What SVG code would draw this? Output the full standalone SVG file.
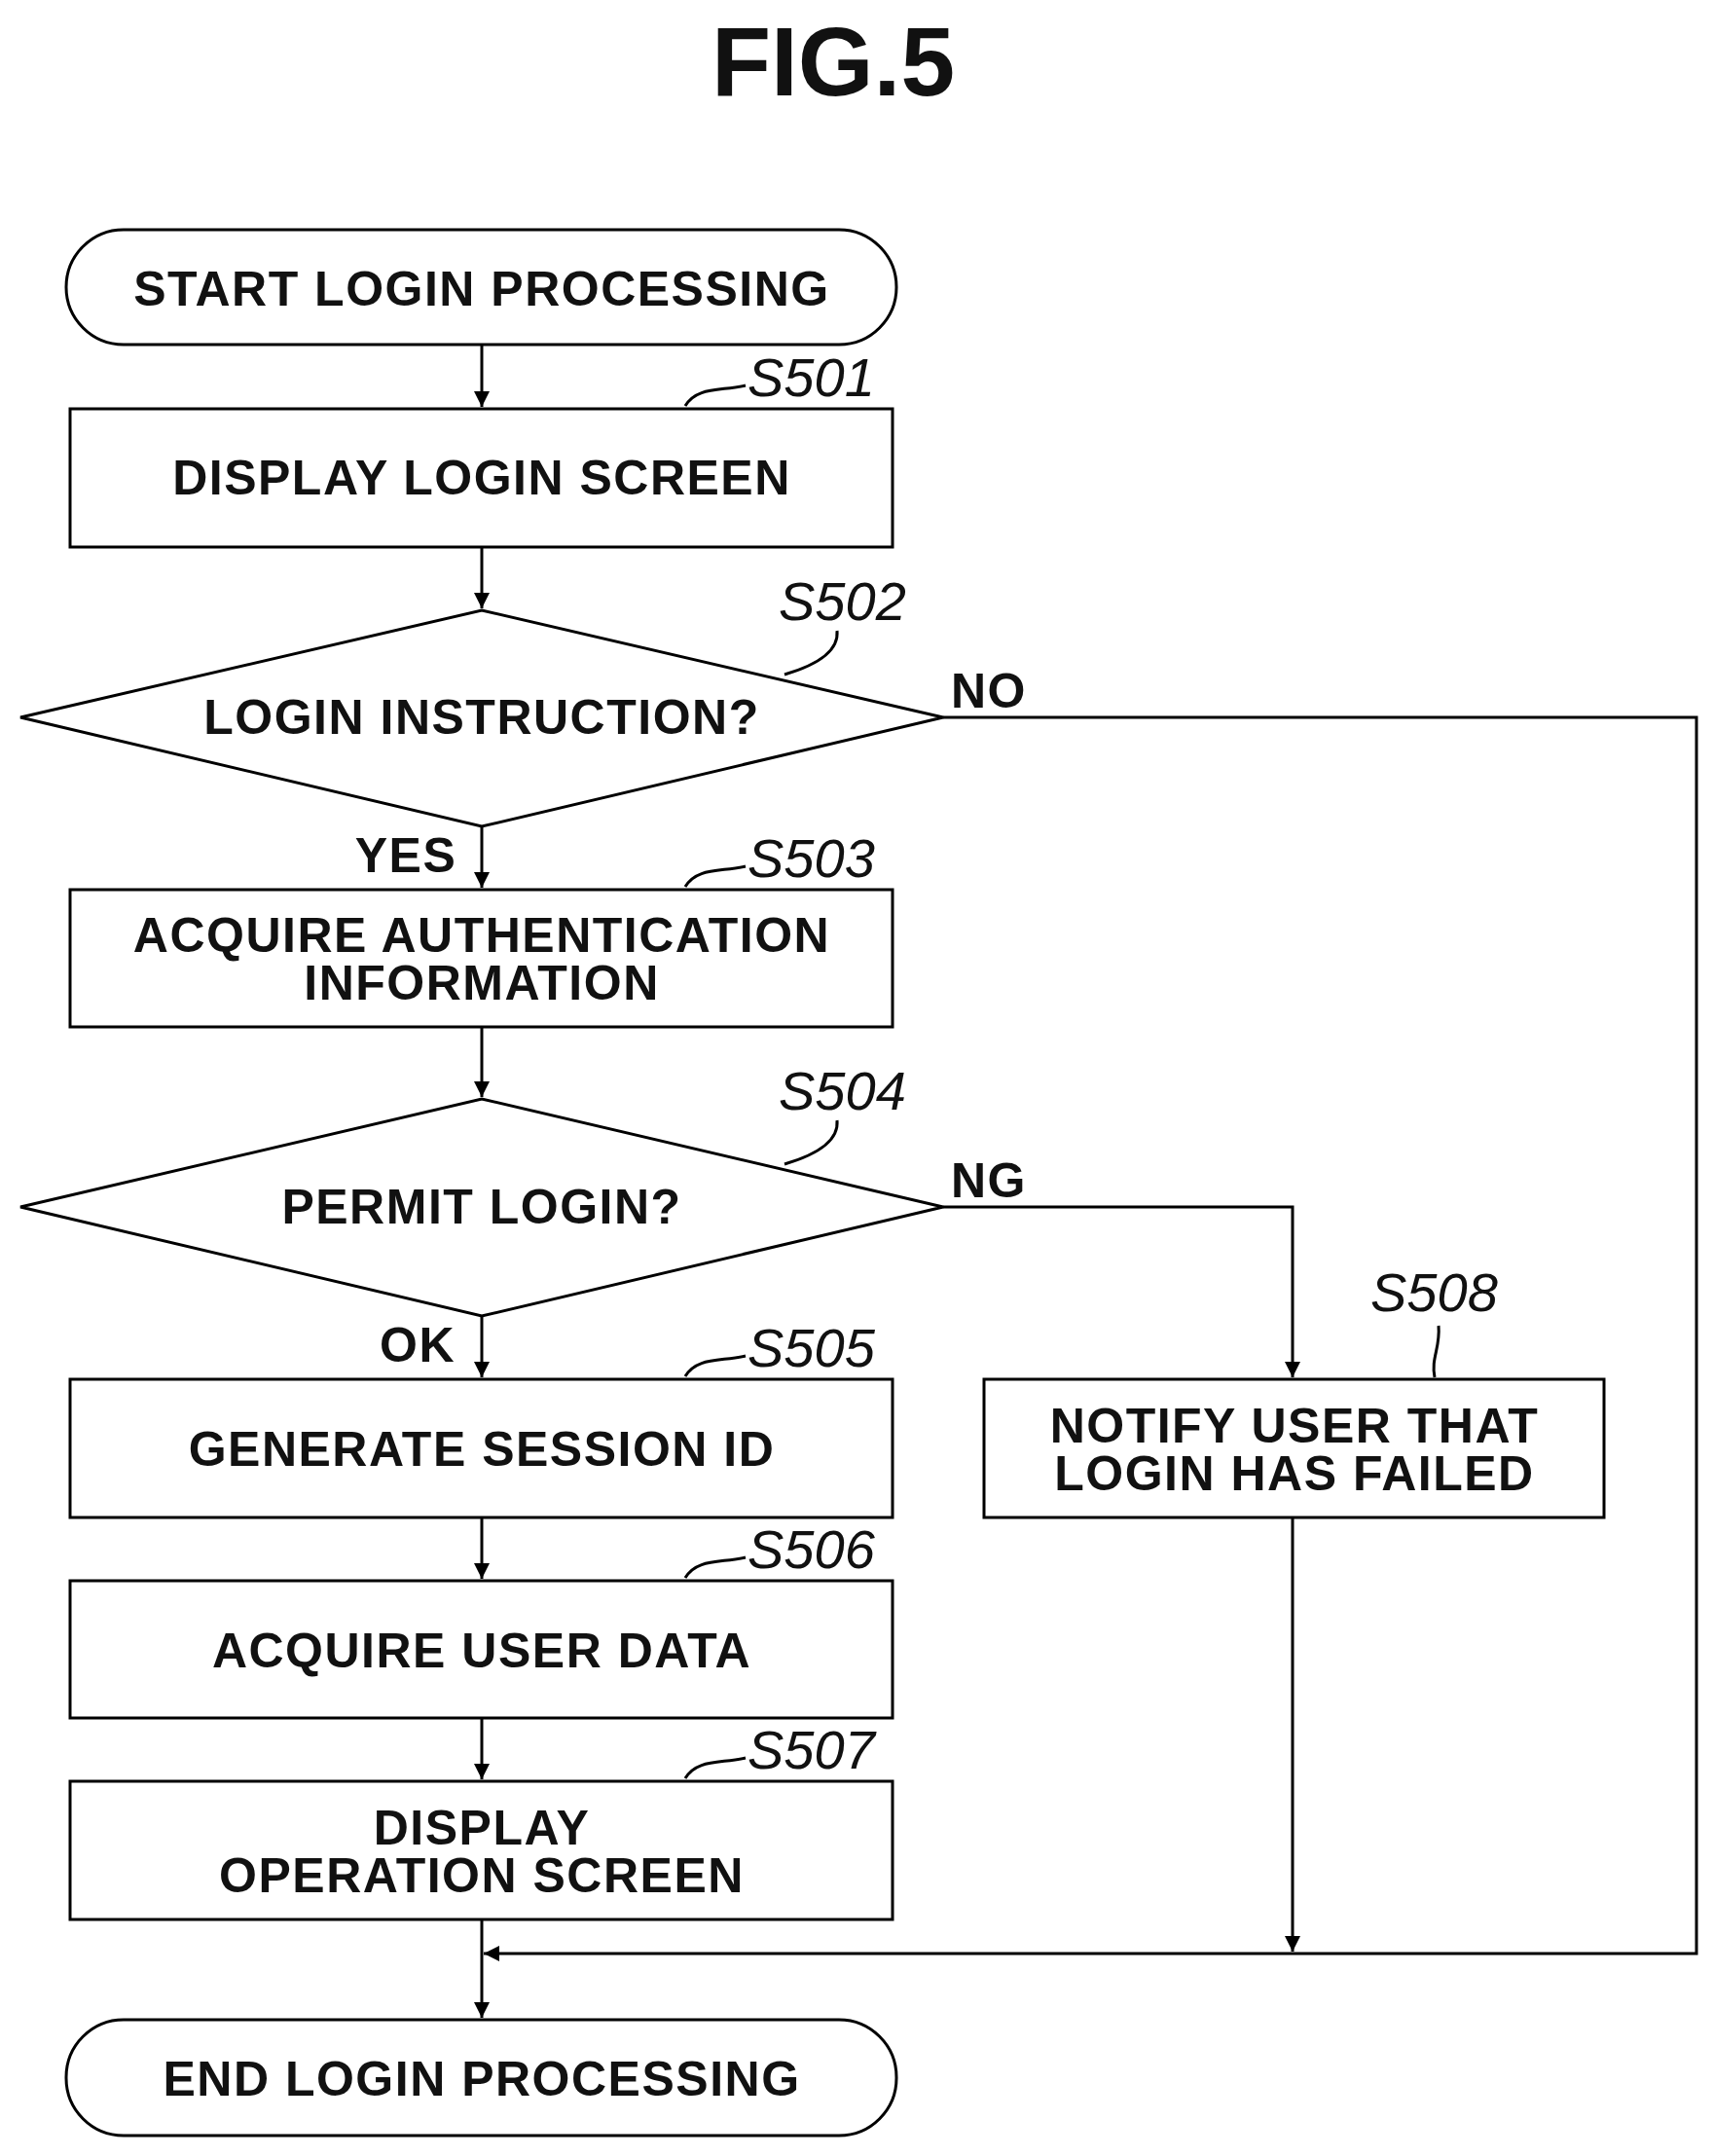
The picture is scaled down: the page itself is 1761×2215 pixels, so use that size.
<svg xmlns="http://www.w3.org/2000/svg" width="1761" height="2215" viewBox="0 0 1761 2215">
<defs>
<marker id="ah" markerWidth="16" markerHeight="24" refX="16" refY="12" orient="auto" markerUnits="userSpaceOnUse"><path d="M0,4 L16,12 L0,20 Z" fill="#000"/></marker>
<style>
.s{fill:#fff;stroke:#000;stroke-width:3}
.t{font-family:"Liberation Sans",Arial,sans-serif;font-weight:bold;font-size:50px;letter-spacing:1.5px;text-anchor:middle;fill:#111}
.l{font-family:"Liberation Sans",Arial,sans-serif;font-style:italic;font-size:56px;fill:#111}
.c{fill:none;stroke:#000;stroke-width:3}
</style>
</defs>
<rect width="1761" height="2215" fill="#fff"/>
<text x="856" y="98" class="t" style="font-size:100px;letter-spacing:0">FIG.5</text>
<g id="connectors">
<path class="c" d="M495,354 V418" marker-end="url(#ah)"/>
<path class="c" d="M495,562 V625" marker-end="url(#ah)"/>
<path class="c" d="M495,849 V912" marker-end="url(#ah)"/>
<path class="c" d="M495,1055 V1127" marker-end="url(#ah)"/>
<path class="c" d="M495,1352 V1415" marker-end="url(#ah)"/>
<path class="c" d="M495,1559 V1622" marker-end="url(#ah)"/>
<path class="c" d="M495,1765 V1828" marker-end="url(#ah)"/>
<path class="c" d="M495,1972 V2073" marker-end="url(#ah)"/>
<path class="c" d="M969,737 H1743 V2007 H497" marker-end="url(#ah)"/>
<path class="c" d="M969,1240 H1328 V1415" marker-end="url(#ah)"/>
<path class="c" d="M1328,1559 V2005" marker-end="url(#ah)"/>
<text x="1016" y="727" class="t">NO</text>
<text x="1016" y="1230" class="t">NG</text>
<text x="417" y="896" class="t">YES</text>
<text x="429" y="1399" class="t">OK</text>
</g>
<g id="start"><rect class="s" x="68" y="236" width="853" height="118" rx="59"/><text x="495" y="314" class="t">START LOGIN PROCESSING</text></g>
<g id="s501"><rect class="s" x="72" y="420" width="845" height="142"/><text x="495" y="508" class="t">DISPLAY LOGIN SCREEN</text>
<path class="c" d="M704,417 C716,397 740,402 766,396"/><text x="768" y="407" class="l">S501</text></g>
<g id="s502"><polygon class="s" points="21,737 495,627 969,737 495,849"/><text x="495" y="754" class="t">LOGIN INSTRUCTION?</text>
<path class="c" d="M806,693 C840,683 862,668 860,648"/><text x="800" y="637" class="l">S502</text></g>
<g id="s503"><rect class="s" x="72" y="914" width="845" height="141"/><text x="495" y="978" class="t">ACQUIRE AUTHENTICATION</text><text x="495" y="1027" class="t">INFORMATION</text>
<path class="c" d="M704,911 C716,891 740,896 766,890"/><text x="768" y="901" class="l">S503</text></g>
<g id="s504"><polygon class="s" points="21,1240 495,1129 969,1240 495,1352"/><text x="495" y="1257" class="t">PERMIT LOGIN?</text>
<path class="c" d="M806,1196 C840,1186 862,1171 860,1151"/><text x="800" y="1140" class="l">S504</text></g>
<g id="s505"><rect class="s" x="72" y="1417" width="845" height="142"/><text x="495" y="1506" class="t">GENERATE SESSION ID</text>
<path class="c" d="M704,1414 C716,1394 740,1399 766,1393"/><text x="768" y="1404" class="l">S505</text></g>
<g id="s506"><rect class="s" x="72" y="1624" width="845" height="141"/><text x="495" y="1713" class="t">ACQUIRE USER DATA</text>
<path class="c" d="M704,1621 C716,1601 740,1606 766,1600"/><text x="768" y="1611" class="l">S506</text></g>
<g id="s507"><rect class="s" x="72" y="1830" width="845" height="142"/><text x="495" y="1895" class="t">DISPLAY</text><text x="495" y="1944" class="t">OPERATION SCREEN</text>
<path class="c" d="M704,1827 C716,1807 740,1812 766,1806"/><text x="768" y="1817" class="l">S507</text></g>
<g id="s508"><rect class="s" x="1011" y="1417" width="637" height="142"/><text x="1330" y="1482" class="t">NOTIFY USER THAT</text><text x="1330" y="1531" class="t">LOGIN HAS FAILED</text>
<path class="c" d="M1474,1415 C1470,1395 1480,1385 1478,1362"/><text x="1408" y="1347" class="l">S508</text></g>
<g id="end"><rect class="s" x="68" y="2075" width="853" height="119" rx="59"/><text x="495" y="2153" class="t">END LOGIN PROCESSING</text></g>
</svg>
